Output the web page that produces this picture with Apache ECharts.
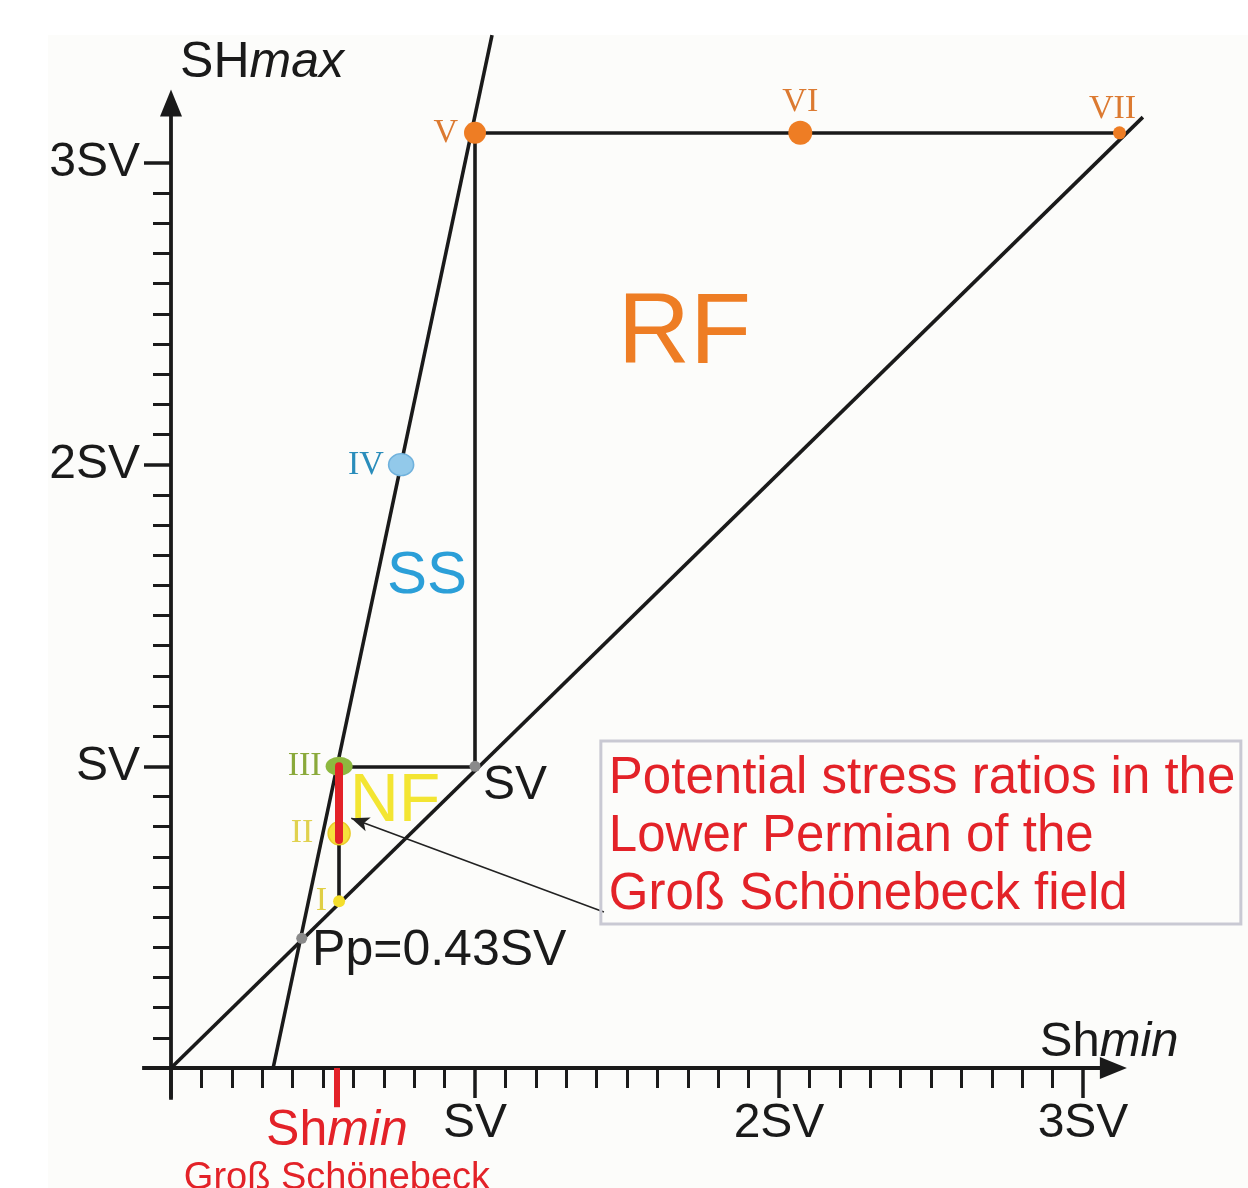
<!DOCTYPE html>
<html><head><meta charset="utf-8">
<script src="https://cdn.jsdelivr.net/npm/echarts@6/dist/echarts.min.js"></script>
<style>html,body{margin:0;padding:0;background:#fff}#c{width:1248px;height:1188px}</style>
</head><body><div id="c"></div>
<script>
const SANS = '"Liberation Sans", Arial, sans-serif';
const SERIF = '"Liberation Serif", "Times New Roman", serif';

// ---- data (units of SV) ----
const xTickLabels = ['', 'SV', '2SV', '3SV'];
const yTickLabels = ['', 'SV', '2SV', '3SV'];

const diagonalLine   = [[0, 0], [3.197, 3.152]];
const frictionLine   = [[0.336, 0], [1.056, 3.424]];
const rfTopLine      = [[1.0, 3.1], [3.12, 3.1]];
const ssVerticalLine = [[1.0, 1.0], [1.0, 3.1]];
const nfTopLine      = [[0.553, 1.0], [1.0, 1.0]];
const nfVerticalLine = [[0.553, 0.553], [0.553, 1.0]];
const xAxisArrow     = [[-0.095, 0], [3.10, 0]];
const yAxisArrow     = [[0, -0.105], [0, 3.199]];

const stressRange = [[0.553, 1.0], [0.553, 0.756]];
const shminTick   = [[0.545, 0], [0.545, -0.13]];
const noteArrow   = [[1.424, 0.517], [0.593, 0.828]];

const regimeNames = ['I', 'II', 'III', 'IV', 'V', 'VI', 'VII'];
const regimeX     = [0.553, 0.553, 0.553, 0.757, 1.0, 2.07, 3.12];
const regimeY     = [0.553, 0.778, 1.0, 2.0, 3.1, 3.1, 3.1];
const porePressure   = [0.43, 0.43];
const verticalStress = [1.0, 1.0];

// ---- styles ----
const ORANGE = '#ee7d24', ORANGE_T = '#dc7a31';
const regimeStyle = {
  I:   {color: '#f4de2c', size: 12, label: '#e0cf45', pos: 'left', dist: 6},
  II:  {color: '#f6e13c', size: [22, 23], border: '#e9cc2a', label: '#e0d14e', pos: 'left', dist: 14},
  III: {color: '#8db83f', size: [27, 19], label: '#8aa93a', pos: 'left', dist: 4},
  IV:  {color: '#92c9ea', size: [25, 22], border: '#6fb1dc', label: '#2a8dbb', pos: 'left', dist: 4},
  V:   {color: ORANGE, size: 22, label: ORANGE_T, pos: 'left', dist: 6},
  VI:  {color: ORANGE, size: 24, label: ORANGE_T, pos: 'top', dist: 2},
  VII: {color: ORANGE, size: 13, label: ORANGE_T, pos: 'top', dist: 0, offset: [-7, 0]}
};

const BLACK = '#1a1a1a', RED = '#e32228';

function textItem(pos, text, style) {
  return {value: pos, label: Object.assign({show: true, position: 'inside', formatter: () => text,
    fontFamily: SANS}, style)};
}

const chart = echarts.init(document.getElementById('c'), null, {renderer: 'canvas'});

const textSeriesBack = {
  type: 'scatter', silent: true, clip: false, z: 1, symbol: 'circle', symbolSize: 1,
  itemStyle: {color: 'rgba(0,0,0,0)', opacity: 1},
  data: [
    textItem([1.689, 2.428], 'RF', {fontSize: 100, color: ORANGE, align: 'center', verticalAlign: 'middle'}),
    textItem([0.842, 1.629], 'SS', {fontSize: 60, color: '#2b9fd8', align: 'center', verticalAlign: 'middle'}),
    textItem([0.737, 0.880], 'NF', {fontSize: 68, color: '#f3e532', align: 'center', verticalAlign: 'middle'})
  ]
};

const richName = (size, color) => ({
  n: {fontSize: size, color: color, fontFamily: SANS},
  i: {fontSize: size, color: color, fontFamily: SANS, fontStyle: 'italic'}
});

const textSeriesFront = {
  type: 'scatter', silent: true, clip: false, z: 6, symbol: 'circle', symbolSize: 1,
  itemStyle: {color: 'rgba(0,0,0,0)', opacity: 1},
  data: [
    textItem([0.03, 3.331], '{n|SH}{i|max}', {align: 'left', verticalAlign: 'middle', rich: richName(50, BLACK)}),
    textItem([3.086, 0.086], '{n|Sh}{i|min}', {align: 'center', verticalAlign: 'middle', rich: richName(49, BLACK)}),
    textItem([0.546, -0.209], '{n|Sh}{i|min}', {align: 'center', verticalAlign: 'middle', rich: richName(50, RED)}),
    textItem([0.546, -0.365], 'Groß Schönebeck', {align: 'center', verticalAlign: 'middle', fontSize: 38, color: RED}),
    textItem([0.464, 0.388], 'Pp=0.43SV', {align: 'left', verticalAlign: 'middle', fontSize: 50, color: BLACK}),
    textItem([1.026, 0.935], 'SV', {align: 'left', verticalAlign: 'middle', fontSize: 48, color: BLACK}),
    textItem([1.414, 1.084], 'Potential stress ratios in the\nLower Permian of the\nGroß Schönebeck field', {
      align: 'left', verticalAlign: 'top', fontSize: 51, lineHeight: 58, color: RED,
      width: 628, borderColor: '#c9c9d3', borderWidth: 1.5, padding: [9, 4, 0, 8],
      backgroundColor: 'rgba(255,255,255,0)'
    })
  ]
};

const pointData = regimeNames.map((n, k) => {
  const s = regimeStyle[n];
  return {
    name: n, value: [regimeX[k], regimeY[k]], symbolSize: s.size,
    itemStyle: {color: s.color, borderColor: s.border || s.color, borderWidth: s.border ? 1.5 : 0, opacity: 1},
    label: {show: true, formatter: n, position: s.pos, distance: s.dist, offset: s.offset || [0, 0],
      color: s.label, fontFamily: SERIF, fontSize: 34}
  };
});
pointData.push({value: porePressure, symbolSize: 11, itemStyle: {color: '#8a8a8a', opacity: 1}});
pointData.push({value: verticalStress, symbolSize: 11, itemStyle: {color: '#8a8a8a', opacity: 1}});

const option = {
  backgroundColor: '#ffffff',
  animation: false,
  graphic: [{type: 'rect', z: -100, silent: true, shape: {x: 48, y: 35, width: 1200, height: 1153},
    style: {fill: '#fcfcfa'}}],
  grid: {left: 171, top: 163, width: 912, height: 905, containLabel: false},
  xAxis: {
    type: 'value', min: 0, max: 3, interval: 1,
    axisLine: {show: false},
    axisTick: {show: true, length: 30, lineStyle: {width: 3.5, color: BLACK}},
    minorTick: {show: true, splitNumber: 10, length: 20, lineStyle: {width: 3, color: BLACK}},
    splitLine: {show: false}, minorSplitLine: {show: false},
    axisLabel: {formatter: v => xTickLabels[Math.round(v)] || '', margin: 32, fontSize: 48,
      color: BLACK, fontFamily: SANS}
  },
  yAxis: {
    type: 'value', min: 0, max: 3, interval: 1,
    axisLine: {show: false},
    axisTick: {show: true, length: 27, lineStyle: {width: 3.5, color: BLACK}},
    minorTick: {show: true, splitNumber: 10, length: 18, lineStyle: {width: 3, color: BLACK}},
    splitLine: {show: false}, minorSplitLine: {show: false},
    axisLabel: {formatter: v => yTickLabels[Math.round(v)] || '', margin: 31, fontSize: 48,
      color: BLACK, fontFamily: SANS}
  },
  series: [
    textSeriesBack,
    {
      type: 'lines', coordinateSystem: 'cartesian2d', polyline: false, clip: false, silent: true, z: 2,
      symbol: 'none',
      lineStyle: {color: BLACK, width: 3.6, opacity: 1, curveness: 0},
      data: [diagonalLine, frictionLine, rfTopLine, ssVerticalLine, nfTopLine, nfVerticalLine]
        .map(c => ({coords: c}))
    },
    {
      type: 'lines', coordinateSystem: 'cartesian2d', polyline: false, clip: false, silent: true, z: 2,
      symbol: ['none', 'triangle'], symbolSize: [0, [22, 27]],
      lineStyle: {color: BLACK, width: 3.8, opacity: 1, curveness: 0},
      itemStyle: {color: BLACK},
      data: [xAxisArrow, yAxisArrow].map(c => ({coords: c}))
    },
    {
      type: 'scatter', clip: false, silent: true, z: 3, data: pointData,
      itemStyle: {opacity: 1}
    },
    {
      type: 'lines', coordinateSystem: 'cartesian2d', polyline: false, clip: false, silent: true, z: 4,
      symbol: 'none',
      lineStyle: {color: RED, width: 8, opacity: 1, curveness: 0, cap: 'round'},
      data: [{coords: stressRange}, {coords: shminTick, lineStyle: {width: 6, cap: 'butt'}}]
    },
    {
      type: 'lines', coordinateSystem: 'cartesian2d', polyline: false, clip: false, silent: true, z: 5,
      symbol: ['none', 'arrow'], symbolSize: [0, [11, 18]],
      lineStyle: {color: '#222222', width: 1.6, opacity: 1, curveness: 0},
      data: [{coords: noteArrow}]
    },
    textSeriesFront
  ]
};
chart.setOption(option);
</script>
</body></html>
